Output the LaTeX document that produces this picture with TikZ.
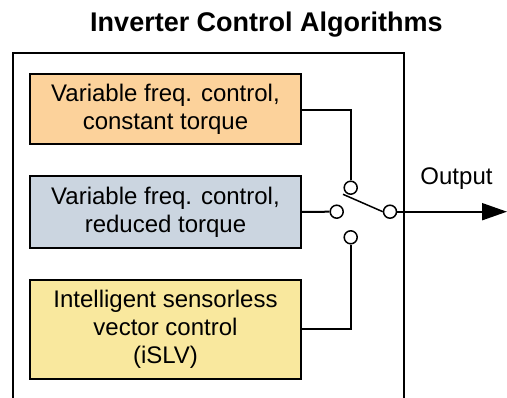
\documentclass[tikz,border=0pt]{standalone}
\usepackage{fontspec}
\setmainfont{Liberation Sans}
\usetikzlibrary{arrows.meta}
\definecolor{orangec}{RGB}{252,210,155}
\definecolor{bluec}{RGB}{203,213,224}
\definecolor{yellowc}{RGB}{249,232,158}
\tikzset{
  algbox/.style={draw, line width=2pt, inner sep=0pt, align=center,
    minimum width=271pt, font=\fontsize{24}{28}\selectfont},
  contact/.style={draw, circle, fill=white, line width=1.5pt, minimum size=13pt, inner sep=0pt},
  wire/.style={line width=2pt},
}
\begin{document}
\begin{tikzpicture}[x=1pt,y=-1pt]
\useasboundingbox (0,0) rectangle (507,398);
% title
\node[anchor=base, font=\fontsize{27}{32}\selectfont\bfseries] (title) at (266.5,32) {Inverter Control Algorithms};
% outer frame (open at the bottom)
\draw[wire] (13,398) -- (13,53) -- (404,53) -- (404,398);
% algorithm boxes
\node[algbox, fill=orangec, minimum height=70pt] (vfc) at (165.5,109) {Variable freq. control,\\constant torque};
\node[algbox, fill=bluec, minimum height=72pt] (vfr) at (165.5,212) {Variable freq. control,\\reduced torque};
\node[algbox, fill=yellowc, minimum height=99pt] (islv) at (165.5,329.5) {Intelligent sensorless\\vector control\\(iSLV)};
% switch contacts
\node[contact] (ctop) at (350.7,187.7) {};
\node[contact] (cleft) at (336.7,211.7) {};
\node[contact] (cbot) at (350.7,237.3) {};
\node[contact] (cout) at (390,211.7) {};
\coordinate (armend) at (343,194.3);
\coordinate (tip) at (507,211.7);
% connectors
\draw[wire] (vfc.east |- 0,110) -| (ctop.north);
\draw[wire] (vfr.east) -- (cleft.west);
\draw[wire] (islv.east |- 0,329.5) -| (cbot.south);
\draw[line width=1.5pt] (cout.west) -- (armend);
\draw[wire, -{Triangle[length=25pt,width=17pt]}] (cout.east) -- (tip);
% output label
\node[anchor=base, font=\fontsize{24}{28}\selectfont] (outlabel) at (456.5,185) {Output};
\end{tikzpicture}
\end{document}
